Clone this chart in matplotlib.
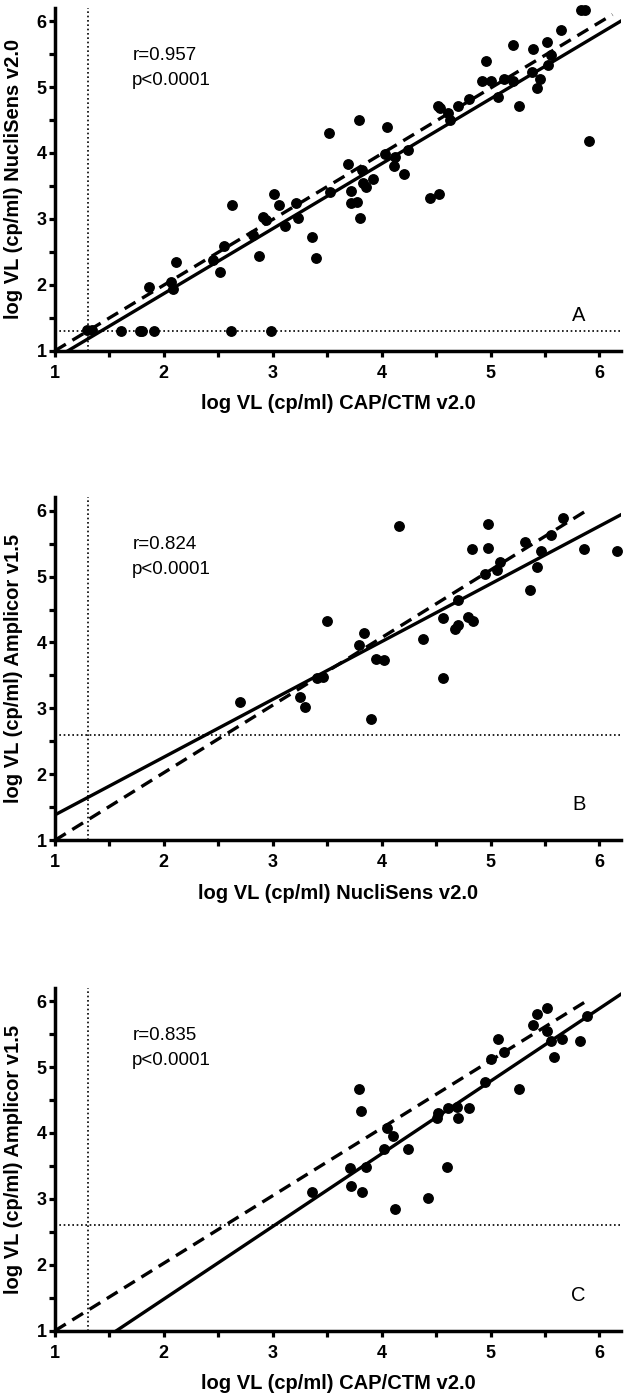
import numpy as np
import matplotlib
matplotlib.use('Agg')
import matplotlib.pyplot as plt
from matplotlib.ticker import MultipleLocator

plt.rcParams['font.family'] = ['Liberation Sans', 'DejaVu Sans']

# panel A: CAP/CTM v2.0 (x) vs NucliSens v2.0 (y)
a_x = [1.29, 1.34, 1.61, 1.78, 1.80, 1.91, 2.62, 2.98,
       1.86, 2.07, 2.08, 2.11, 2.45, 2.52, 2.55, 2.63,
       2.82, 2.87, 2.91, 2.94, 3.01, 3.06, 3.11, 3.21, 3.23,
       3.36, 3.40, 3.53, 3.72, 3.72, 3.77, 3.80,
       3.52, 3.79, 4.05, 3.69, 3.82, 3.92, 3.83, 3.86,
       4.03, 4.12, 4.11, 4.24, 4.21, 4.44, 4.53,
       4.52, 4.54, 4.61, 4.63, 4.70, 4.80, 4.92, 5.00, 4.96,
       5.07, 5.12, 5.21, 5.21, 5.26, 5.38, 5.39, 5.43, 5.45,
       5.53, 5.56, 5.52, 5.65, 5.83, 5.87, 5.90]
a_y = [1.31, 1.31, 1.30, 1.30, 1.30, 1.30, 1.30, 1.30,
       1.96, 2.05, 1.93, 2.35, 2.37, 2.19, 2.59, 3.21,
       2.76, 2.44, 3.03, 2.98, 3.38, 3.21, 2.89, 3.24, 3.01,
       2.72, 2.41, 3.41, 3.43, 3.24, 3.26, 3.01,
       4.30, 4.50, 4.40, 3.84, 3.74, 3.60, 3.55, 3.48,
       3.98, 3.94, 3.81, 4.04, 3.68, 3.32, 3.38,
       4.72, 4.68, 4.60, 4.50, 4.72, 4.82, 5.09, 5.09, 5.39,
       4.85, 5.12, 5.09, 5.64, 4.72, 5.23, 5.58, 4.99, 5.12,
       5.33, 5.48, 5.69, 5.87, 6.17, 6.17, 4.18]

# panel B: NucliSens v2.0 (x) vs Amplicor v1.5 (y)
b_x = [2.70, 3.25, 3.30, 3.41, 3.46, 3.50, 3.79, 3.84, 3.90, 3.95, 4.02,
       4.16, 4.38, 4.56, 4.56, 4.67, 4.70, 4.70, 4.79, 4.84, 4.83, 4.95,
       4.98, 4.98, 5.06, 5.09, 5.32, 5.36, 5.43, 5.46, 5.56, 5.67, 5.86, 6.16]
b_y = [3.09, 3.18, 3.02, 3.46, 3.47, 4.33, 3.96, 4.14, 2.84, 3.75, 3.74,
       5.77, 4.06, 4.37, 3.46, 4.21, 4.26, 4.65, 4.38, 4.33, 5.42, 5.04,
       5.43, 5.80, 5.10, 5.22, 5.53, 4.79, 5.14, 5.39, 5.63, 5.89, 5.42, 5.39]

# panel C: CAP/CTM v2.0 (x) vs Amplicor v1.5 (y)
c_x = [3.36, 3.71, 3.72, 3.79, 3.81, 3.82, 3.86, 4.02, 4.05, 4.10, 4.12,
       4.24, 4.43, 4.51, 4.52, 4.60, 4.61, 4.69, 4.70, 4.80, 4.95, 5.00,
       5.07, 5.12, 5.26, 5.39, 5.43, 5.52, 5.52, 5.56, 5.58, 5.66, 5.82, 5.89]
c_y = [3.10, 3.47, 3.19, 4.67, 4.34, 3.10, 3.48, 3.76, 4.07, 3.96, 2.85,
       3.75, 3.02, 4.23, 4.30, 3.48, 4.38, 4.39, 4.22, 4.38, 4.78, 5.13,
       5.43, 5.23, 4.66, 5.64, 5.81, 5.89, 5.54, 5.40, 5.15, 5.43, 5.40, 5.78]

# regression fits (slope, intercept) and identity-line segments
fits = [(0.985, -0.103), (0.876, 0.509), (1.102, -0.724)]
ident_x = [[1.0, 6.12], [1.0, 5.88], [1.0, 5.88]]
ident_y = [[1.0, 6.10], [1.0, 6.0], [1.0, 6.0]]

# detection limits
lod_x = [1.3, 1.3, 1.3]
lod_y = [1.3, 2.6, 2.6]

stats = [('r=0.957', 'p<0.0001'), ('r=0.824', 'p<0.0001'), ('r=0.835', 'p<0.0001')]
letters = ['A', 'B', 'C']
xlabels = ['log VL (cp/ml) CAP/CTM v2.0', 'log VL (cp/ml) NucliSens v2.0',
           'log VL (cp/ml) CAP/CTM v2.0']
ylabels = ['log VL (cp/ml) NucliSens v2.0', 'log VL (cp/ml) Amplicor v1.5',
           'log VL (cp/ml) Amplicor v1.5']
xs = [a_x, b_x, c_x]
ys = [a_y, b_y, c_y]

fig = plt.figure(figsize=(6.27, 13.99), dpi=100)
bottoms = [0.7493, 0.3994, 0.0488]

for i in range(3):
    ax = fig.add_axes([0.0877, bottoms[i], 0.903, 0.245])
    ax.set_xlim(1, 6.2)
    ax.set_ylim(1, 6.2)

    ax.axvline(lod_x[i], ymin=0, ymax=1, color='k', lw=1.2, ls=(0, (1, 1.6)), zorder=1)
    ax.axhline(lod_y[i], color='k', lw=1.2, ls=(0, (1, 1.6)), zorder=1)

    slope, icpt = fits[i]
    ax.axline((0, icpt), slope=slope, color='k', lw=2.4, zorder=2)
    ax.plot(ident_x[i], ident_y[i], color='k', lw=2.4, ls=(0, (3.8, 2.3)), zorder=2)

    ax.plot(xs[i], ys[i], 'o', color='k', ms=6.8, zorder=3, clip_on=False)

    ax.text(1.71, 5.48, stats[i][0], fontsize=13.5, va='center', ha='left')
    ax.text(1.71, 5.10, stats[i][1], fontsize=13.5, va='center', ha='left')
    ax.text(5.81, 1.54, letters[i], fontsize=14.5, va='center', ha='center')

    for s in ['top', 'right']:
        ax.spines[s].set_visible(False)
    for s in ['left', 'bottom']:
        ax.spines[s].set_linewidth(2.5)

    ax.xaxis.set_major_locator(MultipleLocator(1))
    ax.xaxis.set_minor_locator(MultipleLocator(0.5))
    ax.yaxis.set_major_locator(MultipleLocator(1))
    ax.yaxis.set_minor_locator(MultipleLocator(0.5))
    ax.tick_params(which='both', direction='out', length=4.5, width=2.3)
    ax.tick_params(axis='x', pad=5.5)
    ax.tick_params(axis='y', pad=1.5)
    for lab in ax.get_xticklabels() + ax.get_yticklabels():
        lab.set_fontweight('bold')
        lab.set_fontsize(13)

    ax.set_xlabel(xlabels[i], fontsize=14.5, fontweight='bold', labelpad=9)
    ax.set_ylabel(ylabels[i], fontsize=14.5, fontweight='bold')
    ax.yaxis.set_label_coords(-0.057, 0.5)

plt.savefig('out.png', dpi=100)
